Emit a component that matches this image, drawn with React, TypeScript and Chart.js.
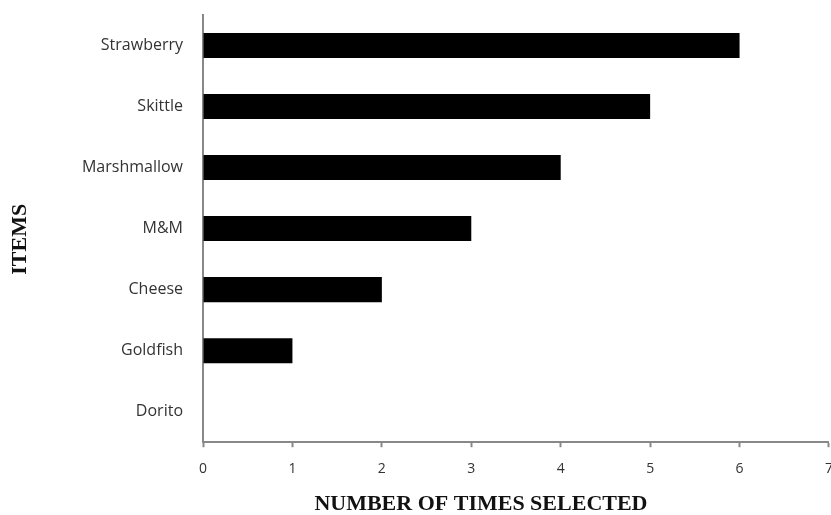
import React, { useEffect, useRef } from "react";
import { Chart, registerables } from "chart.js";

Chart.register(...registerables);

const categories = ["Strawberry", "Skittle", "Marshmallow", "M&M", "Cheese", "Goldfish", "Dorito"];
const timesSelected = [6, 5, 4, 3, 2, 1, 0];
const xTicks = [0, 1, 2, 3, 4, 5, 6, 7];
const xTitle = "NUMBER OF TIMES SELECTED";
const yTitle = "ITEMS";

const titlesPlugin = {
  id: "titlesPlugin",
  afterDraw(chart: any) {
    const { ctx, chartArea } = chart;
    ctx.save();
    ctx.font = "bold 22px 'Liberation Serif', serif";
    ctx.fillStyle = "#111";
    ctx.textAlign = "center";
    ctx.textBaseline = "middle";
    const cx = chartArea.left + (chartArea.right - chartArea.left) * 0.444;
    ctx.fillText(xTitle, cx, chartArea.bottom + 62);
    const cy = chartArea.top + (chartArea.bottom - chartArea.top) * 0.525;
    ctx.translate(20, cy);
    ctx.rotate(-Math.PI / 2);
    ctx.fillText(yTitle, 0, 0);
    ctx.restore();
  },
};

export default function App() {
  const ref = useRef<HTMLCanvasElement | null>(null);
  useEffect(() => {
    if (!ref.current) return;
    const chart = new Chart(ref.current, {
      type: "bar",
      data: {
        labels: categories,
        datasets: [
          {
            data: timesSelected,
            backgroundColor: "#000",
            borderWidth: 0,
            barPercentage: 0.41,
            categoryPercentage: 1,
          },
        ],
      },
      options: {
        indexAxis: "y",
        responsive: false,
        animation: false,
        layout: { padding: { top: 15, bottom: 25, left: 0, right: 0 } },
        plugins: { legend: { display: false }, tooltip: { enabled: false } },
        scales: {
          x: {
            type: "linear",
            min: xTicks[0],
            max: xTicks[xTicks.length - 1],
            afterBuildTicks: (scale: any) => {
              scale.ticks = xTicks.map((v) => ({ value: v }));
            },
            ticks: {
              font: { family: "'Open Sans', sans-serif", size: 14 },
              color: "#333",
              padding: 13,
            },
            grid: {
              drawOnChartArea: false,
              drawTicks: true,
              tickLength: 5,
              color: "#888",
              tickWidth: 2,
            },
            border: { display: true, color: "#888", width: 2 },
          },
          y: {
            type: "category",
            afterFit: (scale: any) => {
              scale.width = 203;
            },
            ticks: {
              font: { family: "'Open Sans', sans-serif", size: 16 },
              color: "#333",
              padding: 0,
            },
            grid: {
              drawOnChartArea: false,
              drawTicks: true,
              tickLength: 20,
              tickColor: "rgba(0,0,0,0)",
            },
            border: { display: true, color: "#888", width: 2 },
          },
        },
      },
      plugins: [titlesPlugin],
    });
    return () => chart.destroy();
  }, []);
  return (
    <div style={{ position: "absolute", left: 0, top: 0, width: 831, height: 515, overflow: "hidden", background: "#fff" }}>
      <canvas ref={ref} width={846} height={515} />
    </div>
  );
}
